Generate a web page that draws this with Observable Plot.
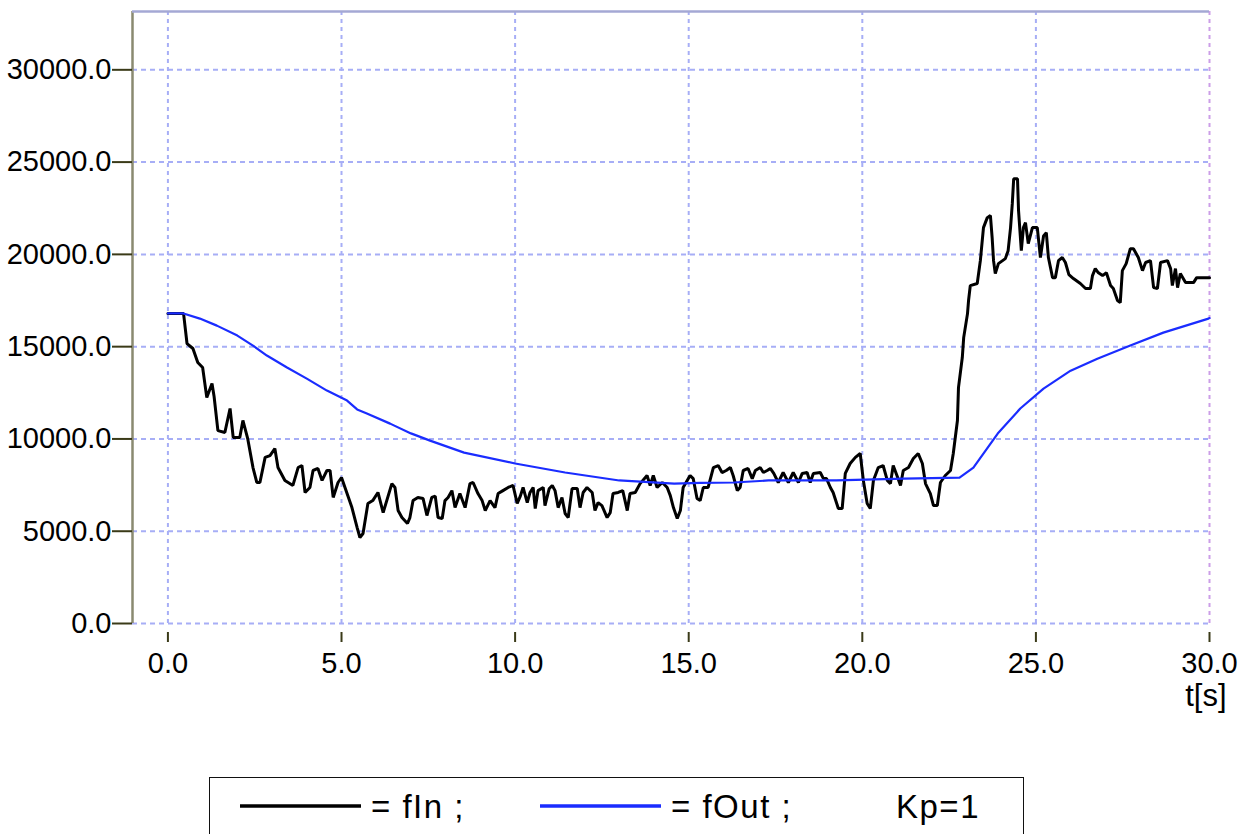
<!DOCTYPE html>
<html>
<head>
<meta charset="utf-8">
<script src="https://cdn.jsdelivr.net/npm/d3@7"></script>
<script src="https://cdn.jsdelivr.net/npm/@observablehq/plot@0.6"></script>
<style>
  html, body { margin: 0; padding: 0; background: #fff; overflow: hidden; }
  #wrap { position: relative; width: 1240px; height: 834px; font-family: "Liberation Sans", Arial, sans-serif; }
  #legend { position: absolute; left: 209px; top: 777px; width: 813px; height: 80px; border: 1.5px solid #111; background: #fff; }
</style>
</head>
<body>
<div id="wrap"><div id="chart"></div><div id="legend"></div></div>
<script>
// ---- data ----
const tIn = [0,0.45,0.55,0.72,0.86,1.0,1.12,1.27,1.33,1.44,1.64,1.79,1.88,2.07,2.16,2.3,2.45,2.56,2.65,2.8,2.94,3.08,3.17,3.37,3.6,3.75,3.86,3.95,4.09,4.18,4.32,4.44,4.58,4.67,4.76,4.9,5.0,5.1,5.3,5.45,5.53,5.62,5.76,5.9,6.05,6.2,6.45,6.54,6.63,6.74,6.9,6.97,7.06,7.2,7.35,7.46,7.6,7.7,7.78,7.9,7.98,8.07,8.18,8.27,8.41,8.56,8.7,8.79,8.93,9.05,9.14,9.28,9.42,9.51,9.65,9.8,9.94,10.06,10.15,10.23,10.35,10.43,10.52,10.58,10.66,10.81,10.86,10.98,11.07,11.15,11.24,11.35,11.44,11.53,11.64,11.79,11.87,11.96,12.07,12.22,12.3,12.39,12.5,12.65,12.74,12.82,12.97,13.1,13.23,13.31,13.46,13.6,13.8,13.89,13.98,14.09,14.24,14.38,14.47,14.56,14.67,14.76,14.84,15.04,15.13,15.24,15.33,15.42,15.56,15.71,15.85,15.96,16.08,16.2,16.28,16.4,16.48,16.57,16.71,16.83,16.92,17.06,17.15,17.26,17.35,17.45,17.58,17.72,17.87,18.01,18.16,18.27,18.41,18.5,18.59,18.79,18.88,18.97,19.08,19.16,19.31,19.42,19.51,19.65,19.8,19.94,20.03,20.14,20.23,20.32,20.46,20.6,20.72,20.81,20.89,21.0,21.1,21.18,21.33,21.47,21.61,21.73,21.82,21.96,22.05,22.16,22.25,22.39,22.54,22.62,22.74,22.77,22.88,22.92,23.03,23.06,23.11,23.31,23.4,23.49,23.6,23.69,23.74,23.78,23.83,23.92,24.12,24.2,24.27,24.32,24.36,24.47,24.5,24.58,24.64,24.7,24.78,24.9,25.04,25.13,25.22,25.3,25.36,25.48,25.56,25.65,25.76,25.85,25.95,26.08,26.28,26.43,26.57,26.63,26.71,26.8,26.92,27.03,27.15,27.23,27.35,27.43,27.49,27.6,27.72,27.81,27.95,28.07,28.16,28.3,28.39,28.5,28.59,28.79,28.88,28.93,29.02,29.08,29.16,29.31,29.54,29.63,30.0];
const fIn = [16800,16800,15170,14900,14140,13870,12240,13000,12300,10450,10350,11650,10080,10080,11000,10000,8450,7640,7640,9000,9100,9480,8450,7750,7480,8450,8560,7100,7370,8290,8400,7750,8290,8290,6830,7640,7910,7370,6280,5200,4660,4875,6500,6660,7100,6010,7580,7370,6120,5740,5420,5740,6660,6830,6770,5850,6830,6900,5740,5690,6660,6830,7200,6280,7040,6280,7580,7640,7040,6660,6120,6660,6280,7040,7200,7370,7480,6500,6900,7370,6550,7100,7370,6230,7200,7370,6390,7300,7480,7200,6280,6830,5960,5740,7310,7310,6280,7100,7370,7100,6120,6550,6390,5740,6010,7040,7100,7200,6120,7040,7100,7580,8020,7480,8020,7370,7640,7370,6930,6280,5690,6120,7370,8020,7850,6770,6660,7370,7370,8450,8560,8180,8290,8450,8020,7200,7370,8290,8400,7850,8290,8450,8180,8290,8400,8130,7640,8180,7640,8180,7640,8130,8180,7640,8130,8180,7850,7850,7370,7100,6230,6230,8130,8670,9000,9210,7750,6500,6230,7750,8450,8560,7750,7580,8560,8000,7480,8290,8450,8940,9210,8670,7580,7040,6390,6390,7640,8020,8290,9210,11000,12780,14410,15490,16790,17500,18310,18420,19660,21450,21990,22100,20900,19660,18960,19500,19770,20200,21450,22750,24100,24100,22370,20200,21450,21720,20580,21450,21450,19830,21000,21180,19830,18740,18740,19660,19830,19560,18900,18690,18420,18150,18150,18850,19230,19000,18850,19000,18310,18150,17500,17390,19120,19500,20310,20310,19830,19120,19560,19660,18200,18150,19560,19660,19230,18310,19230,18200,18960,18470,18470,18740,18740];
const tOut = [0,0.45,0.92,1.41,2.0,2.45,2.85,3.43,4.0,4.58,5.16,5.45,5.73,6.4,7.0,7.55,8.53,10.0,11.44,13.0,14.58,15.33,16.3,17.3,19.25,21.2,22.8,23.2,23.9,24.55,25.22,26.0,26.77,27.72,28.67,29.97,30.0];
const fOut = [16800,16800,16520,16140,15600,15060,14520,13870,13270,12620,12080,11600,11380,10830,10300,9910,9260,8670,8180,7750,7580,7620,7640,7750,7750,7850,7900,8450,10290,11650,12730,13700,14350,15060,15760,16520,16550];
const xTicks = [0,5,10,15,20,25,30];
const yTicks = [0,5000,10000,15000,20000,25000,30000];
const xLabel = "t[s]";
const legendItems = ["= fIn ;", "= fOut ;", "Kp=1"];
const seriesColors = {fIn: "#000000", fOut: "#1a2cff"};

const xMin = -1.02, xMax = 30, yMin = 0, yMax = 33160;
const dataIn = tIn.map((t, i) => ({t, v: fIn[i]}));
const dataOut = tOut.map((t, i) => ({t, v: fOut[i]}));
const fmt = d => d.toFixed(1);
const gridColor = "#a7aef6";

const chart = Plot.plot({
  width: 1240,
  height: 720,
  marginLeft: 132,
  marginRight: 31,
  marginTop: 11,
  marginBottom: 97,
  style: {fontFamily: "'Liberation Sans', Arial, sans-serif", background: "transparent", overflow: "visible"},
  x: {domain: [xMin, xMax]},
  y: {domain: [yMin, yMax]},
  marks: [
    Plot.gridX(xTicks, {stroke: d => d === 30 ? "#cc9ee8" : gridColor, strokeOpacity: 1, strokeWidth: 2, strokeDasharray: "4,4"}),
    Plot.gridY(yTicks, {stroke: gridColor, strokeOpacity: 1, strokeWidth: 2, strokeDasharray: "5,4"}),
    Plot.line(dataIn, {x: "t", y: "v", stroke: seriesColors.fIn, strokeWidth: 3, strokeLinejoin: "miter"}),
    Plot.line(dataOut, {x: "t", y: "v", stroke: seriesColors.fOut, strokeWidth: 2.2}),
    Plot.ruleX([xMin], {stroke: "#8a8a70", strokeWidth: 2.5}),
    Plot.ruleY([yMax], {stroke: "#a4a8d4", strokeWidth: 2.5}),
    Plot.axisY(yTicks, {tickFormat: fmt, tickSize: 20, tickPadding: 1, fontSize: 29, stroke: "#3a3a18", strokeWidth: 2, fill: "#000", label: null}),
    Plot.axisX(xTicks, {tickFormat: fmt, tickSize: 10, tickPadding: 10, dy: 9, fontSize: 29, stroke: "#3a3a18", strokeWidth: 2, fill: "#000", label: null}),
    Plot.text([xLabel], {frameAnchor: "bottom-right", text: d => d, textAnchor: "end", dx: 17, dy: 82, fontSize: 31, fill: "#000"})
  ]
});
document.getElementById("chart").appendChild(chart);

// legend
const ns = "http://www.w3.org/2000/svg";
const lg = document.createElementNS(ns, "svg");
lg.setAttribute("width", 813); lg.setAttribute("height", 80);
lg.style.fontFamily = "'Liberation Sans', Arial, sans-serif";
const items = [
  {x1: 30, x2: 151, color: seriesColors.fIn, w: 3.5, tx: 161, text: legendItems[0]},
  {x1: 330, x2: 451, color: seriesColors.fOut, w: 3.5, tx: 461, text: legendItems[1]},
  {tx: 686, text: legendItems[2]}
];
for (const it of items) {
  if (it.color) {
    const l = document.createElementNS(ns, "line");
    l.setAttribute("x1", it.x1); l.setAttribute("x2", it.x2);
    l.setAttribute("y1", 28); l.setAttribute("y2", 28);
    l.setAttribute("stroke", it.color); l.setAttribute("stroke-width", it.w);
    lg.appendChild(l);
  }
  const t = document.createElementNS(ns, "text");
  t.setAttribute("x", it.tx); t.setAttribute("y", 40);
  t.setAttribute("font-size", 33);
  t.setAttribute("letter-spacing", "1.5");
  t.setAttribute("xml:space", "preserve");
  t.style.whiteSpace = "pre";
  t.textContent = it.text;
  lg.appendChild(t);
}
document.getElementById("legend").appendChild(lg);
</script>
</body>
</html>
